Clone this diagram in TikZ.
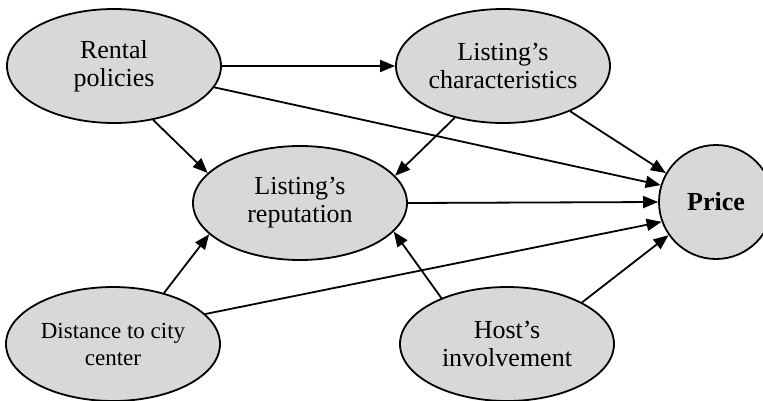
\documentclass[tikz,border=0pt]{standalone}
\usepackage{fontspec}
\setmainfont{Liberation Serif}
\usetikzlibrary{arrows.meta,shapes.geometric}
\definecolor{nodegray}{RGB}{216,216,216}
\begin{document}
\begin{tikzpicture}[x=1pt,y=1pt,
  construct/.style={ellipse, draw=black, line width=1.8pt, fill=nodegray,
    minimum width=214pt, minimum height=114pt, inner xsep=-30pt, inner ysep=0pt,
    align=center, font=\fontsize{26}{28}\selectfont},
  target/.style={circle, draw=black, line width=1.8pt, fill=nodegray,
    minimum size=114pt, inner sep=0pt, align=center,
    font=\fontsize{26}{28}\selectfont\bfseries},
  link/.style={line width=1.8pt, -{Triangle[length=15pt,width=12pt]}}]
\clip (0,0) rectangle (763,-400);
\useasboundingbox (0,0) rectangle (763,-400);
\node[construct] (rent) at (114,-66) {Rental\\policies};
\node[construct] (char) at (503,-66) {Listing’s\\characteristics};
\node[construct] (rep) at (300,-203) {Listing’s\\reputation};
\node[target] (price) at (716,-202) {Price};
\node[construct, font=\fontsize{23}{27}\selectfont] (dist) at (113,-344) {Distance to city\\center};
\node[construct] (host) at (507,-344) {Host’s\\involvement};
\draw[link] (rent.east) -- (char.west);
\draw[link] (rent.-12) -- (price.163);
\draw[link] (rent.-54) -- (rep.162);
\draw[link] (char.227) -- (rep.16);
\draw[link] (char.-34) -- (price.150);
\draw[link] (rep.east) -- (price.west);
\draw[link] (dist.45) -- (rep.199);
\draw[link] (dist.18) -- (price.200);
\draw[link] (host.145) -- (rep.-17);
\draw[link] (host.29) -- (price.215);
\end{tikzpicture}
\end{document}
